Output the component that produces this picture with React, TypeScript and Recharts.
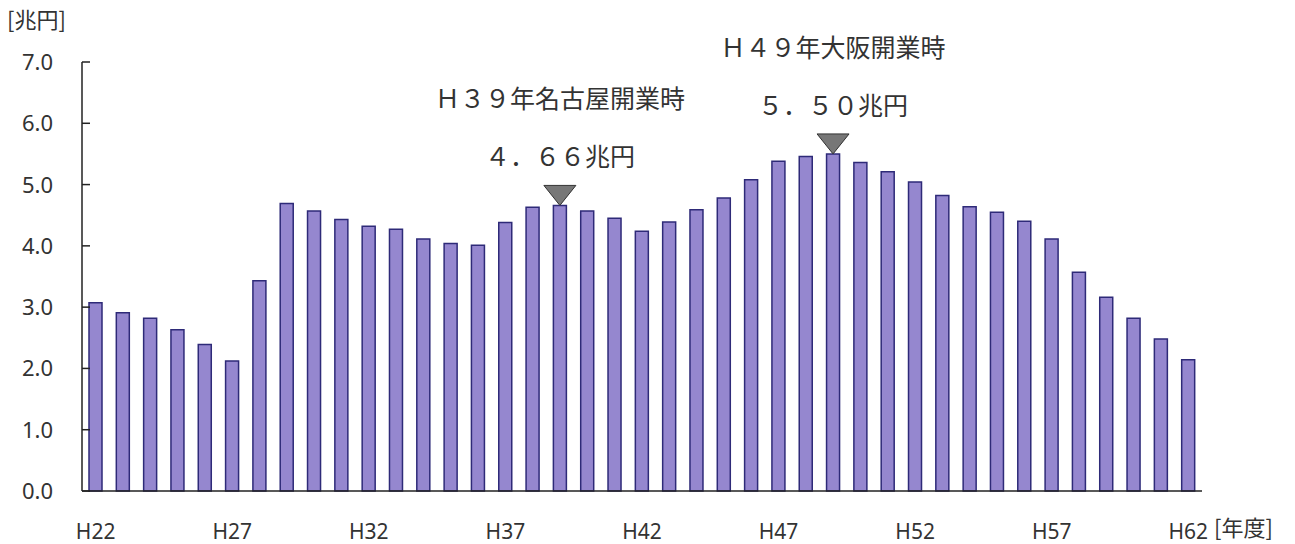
import React from "react";
import { BarChart, Bar, XAxis, YAxis, LabelList, Customized } from "recharts";

const YEARS = [
  "H22", "H23", "H24", "H25", "H26", "H27", "H28", "H29", "H30", "H31",
  "H32", "H33", "H34", "H35", "H36", "H37", "H38", "H39", "H40", "H41",
  "H42", "H43", "H44", "H45", "H46", "H47", "H48", "H49", "H50", "H51",
  "H52", "H53", "H54", "H55", "H56", "H57", "H58", "H59", "H60", "H61",
  "H62",
];

const REVENUE = [
  3.07, 2.91, 2.82, 2.63, 2.39, 2.12, 3.43, 4.69, 4.57, 4.43,
  4.32, 4.27, 4.11, 4.04, 4.01, 4.38, 4.63, 4.66, 4.57, 4.45,
  4.24, 4.39, 4.59, 4.78, 5.08, 5.38, 5.46, 5.5, 5.36, 5.21,
  5.04, 4.82, 4.64, 4.55, 4.4, 4.11, 3.57, 3.16, 2.82, 2.48,
  2.14,
];

const Y_TICKS = [0, 1, 2, 3, 4, 5, 6, 7];

const ANNOTATIONS = [
  { year: "H39", title: "Ｈ３９年名古屋開業時", amount: "４．６６兆円" },
  { year: "H49", title: "Ｈ４９年大阪開業時", amount: "５．５０兆円" },
];

const data = YEARS.map((year, i) => ({ year, value: REVENUE[i] }));

const CJK = "'Noto Sans CJK JP', 'Noto Sans', sans-serif";
const LATIN = "'Noto Sans', 'Open Sans', sans-serif";

function YTick(props: any) {
  const { x, y, payload } = props;
  return (
    <g>
      <line x1={x} x2={x + 8} y1={y} y2={y} stroke="#222" strokeWidth={1.5} />
      <text x={x - 29} y={y} dy={8} textAnchor="end" fontSize={22} fontFamily={LATIN} fill="#333">
        {Number(payload.value).toFixed(1)}
      </text>
    </g>
  );
}

function Marker(props: any) {
  const { x, y, width, index } = props;
  const note = ANNOTATIONS.find((a) => a.year === YEARS[index]);
  if (!note) return null;
  const cx = x + width / 2;
  return (
    <g>
      <polygon
        points={`${cx - 16},${y - 20} ${cx + 16},${y - 20} ${cx},${y}`}
        fill="#777"
        stroke="#333"
        strokeWidth={1}
      />
      <text x={cx} y={y - 106} dy={9} textAnchor="middle" fontSize={25} fontFamily={CJK} fill="#333">
        {note.title}
      </text>
      <text x={cx} y={y - 48} dy={9} textAnchor="middle" fontSize={25} fontFamily={CJK} fill="#333">
        {note.amount}
      </text>
    </g>
  );
}

function Units() {
  return (
    <g>
      <text x={7} y={28} fontSize={22} fontFamily={CJK} fill="#333">[兆円]</text>
      <text x={1214} y={536} fontSize={22} fontFamily={CJK} fill="#333">[年度]</text>
    </g>
  );
}

export default function App() {
  return (
    <div style={{ position: "absolute", left: 0, top: 0, background: "#fff" }}>
      <BarChart width={1295} height={544} data={data} margin={{ top: 62, right: 93, bottom: 0, left: 0 }}>
        <XAxis
          dataKey="year"
          height={53}
          interval={4}
          tickLine={false}
          axisLine={{ stroke: "#222", strokeWidth: 1.5 }}
          tickMargin={27}
          tick={{ fontSize: 21, fontFamily: LATIN, fill: "#333" }}
        />
        <YAxis
          width={82}
          domain={[0, 7]}
          ticks={Y_TICKS}
          tickLine={false}
          tickSize={0}
          tickMargin={0}
          axisLine={{ stroke: "#222", strokeWidth: 1.5 }}
          tick={<YTick />}
        />
        <Bar dataKey="value" barSize={13} fill="#9587cf" stroke="#2e2a78" strokeWidth={1.5} isAnimationActive={false}>
          <LabelList dataKey="value" content={<Marker />} />
        </Bar>
        <Customized component={<Units />} />
      </BarChart>
    </div>
  );
}
